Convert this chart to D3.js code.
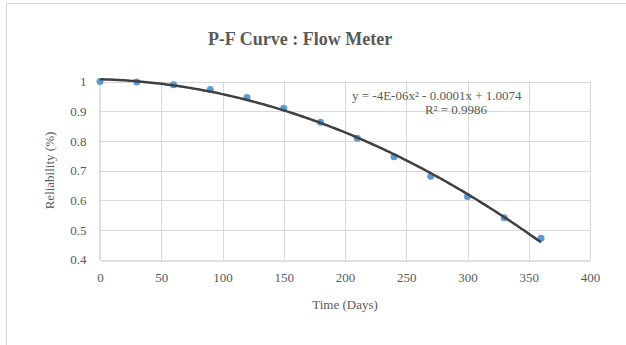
<!DOCTYPE html>
<html>
<head>
<meta charset="utf-8">
<script src="https://cdn.jsdelivr.net/npm/d3@7"></script>
<style>
  html, body { margin: 0; padding: 0; background: #fff; }
  svg { display: block; }
</style>
</head>
<body>
<svg id="chart" width="626" height="345"></svg>
<script>
// ---- data ----
const days = [0, 30, 60, 90, 120, 150, 180, 210, 240, 270, 300, 330, 360];
const reliability = [1.0, 0.998, 0.989, 0.973, 0.946, 0.910, 0.863, 0.809, 0.746, 0.681, 0.612, 0.541, 0.472];
const xTicks = [0, 50, 100, 150, 200, 250, 300, 350, 400];
const yTicks = [0.4, 0.5, 0.6, 0.7, 0.8, 0.9, 1];
const titleText = "P-F Curve : Flow Meter";
const xLabel = "Time (Days)";
const yLabel = "Reliability (%)";
const equationText = "y = -4E-06x² - 0.0001x + 1.0074";
const r2Text = "R² = 0.9986";

const svg = d3.select("#chart");
const font = "'Liberation Serif', 'Times New Roman', serif";
const textColor = "#595959";

// chart border
svg.append("rect").attr("x", 6.5).attr("y", 3.5).attr("width", 640).attr("height", 360)
  .attr("fill", "#fff").attr("stroke", "#d9d9d9").attr("stroke-width", 1);

const plot = { left: 100, right: 590, top: 81.5, bottom: 259.5 };
const x = d3.scaleLinear().domain([0, 400]).range([plot.left, plot.right]);
const y = d3.scaleLinear().domain([0.4, 1]).range([plot.bottom, plot.top]);

// gridlines
const grid = svg.append("g");
grid.selectAll("line.h").data(yTicks.filter(t => t > 0.4)).enter().append("line")
  .attr("x1", plot.left).attr("x2", plot.right)
  .attr("y1", d => Math.round(y(d)) + 0.5).attr("y2", d => Math.round(y(d)) + 0.5)
  .attr("stroke", "#d9d9d9").attr("stroke-width", 1);
grid.selectAll("line.v").data(xTicks.filter(t => t > 0)).enter().append("line")
  .attr("y1", plot.top).attr("y2", plot.bottom)
  .attr("x1", d => Math.round(x(d)) + 0.5).attr("x2", d => Math.round(x(d)) + 0.5)
  .attr("stroke", "#d9d9d9").attr("stroke-width", 1);

// axes
const xAxis = d3.axisBottom(x).tickValues(xTicks).tickSize(0).tickPadding(12).tickFormat(d3.format("d"));
const gx = svg.append("g").attr("transform", `translate(0,${Math.round(plot.bottom) + 0.5})`).call(xAxis);
gx.select(".domain").attr("stroke", "#bfbfbf").attr("stroke-width", 1);
gx.selectAll("text").attr("font-family", font).attr("font-size", 13).attr("fill", textColor);

const yAxis = d3.axisLeft(y).tickValues(yTicks).tickSize(0).tickPadding(13).tickFormat(d => d === 1 ? "1" : d3.format(".1f")(d));
const gy = svg.append("g").attr("transform", `translate(${plot.left - 0.5},0)`).call(yAxis);
gy.select(".domain").attr("stroke", "#bfbfbf").attr("stroke-width", 1);
gy.selectAll("text").attr("font-family", font).attr("font-size", 13).attr("fill", textColor);

// polynomial (order 2) least-squares fit computed from the data
function polyFit2(xs, ys) {
  const n = xs.length;
  let s = [0,0,0,0,0], t = [0,0,0];
  for (let i = 0; i < n; i++) {
    const xi = xs[i];
    for (let k = 0; k < 5; k++) s[k] += Math.pow(xi, k);
    for (let k = 0; k < 3; k++) t[k] += ys[i] * Math.pow(xi, k);
  }
  const A = [[s[0], s[1], s[2], t[0]], [s[1], s[2], s[3], t[1]], [s[2], s[3], s[4], t[2]]];
  for (let i = 0; i < 3; i++) {
    for (let j = i + 1; j < 3; j++) {
      const f = A[j][i] / A[i][i];
      for (let k = i; k < 4; k++) A[j][k] -= f * A[i][k];
    }
  }
  const c = [0,0,0];
  for (let i = 2; i >= 0; i--) {
    let v = A[i][3];
    for (let k = i + 1; k < 3; k++) v -= A[i][k] * c[k];
    c[i] = v / A[i][i];
  }
  return c;
}
const coef = polyFit2(days, reliability);
const fitPts = d3.range(0, 360.01, 2).map(d => [d, coef[0] + coef[1] * d + coef[2] * d * d]);

// points
svg.append("g").selectAll("circle").data(days).enter().append("circle")
  .attr("cx", (d) => x(d)).attr("cy", (d, i) => y(reliability[i]))
  .attr("r", 3.5).attr("fill", "#5b9bd5");

// trendline
svg.append("path").datum(fitPts)
  .attr("d", d3.line().x(d => x(d[0])).y(d => y(d[1])))
  .attr("fill", "none").attr("stroke", "#404040").attr("stroke-width", 2.5);

// equation labels
svg.append("text").attr("x", 352).attr("y", 99.5).text(equationText)
  .attr("font-family", font).attr("font-size", 13).attr("fill", textColor);
svg.append("text").attr("x", 456).attr("y", 113.5).attr("text-anchor", "middle").text(r2Text)
  .attr("font-family", font).attr("font-size", 13).attr("fill", textColor);

// title
svg.append("text").attr("x", 300).attr("y", 45).attr("text-anchor", "middle").text(titleText)
  .attr("font-family", font).attr("font-size", 18).attr("font-weight", "bold").attr("fill", textColor);

// axis titles
svg.append("text").attr("x", (plot.left + plot.right) / 2).attr("y", 309).attr("text-anchor", "middle").text(xLabel)
  .attr("font-family", font).attr("font-size", 13).attr("fill", textColor);
svg.append("text").attr("transform", `translate(54,${(plot.top + plot.bottom) / 2}) rotate(-90)`)
  .attr("text-anchor", "middle").text(yLabel)
  .attr("font-family", font).attr("font-size", 13).attr("fill", textColor);
</script>
</body>
</html>
